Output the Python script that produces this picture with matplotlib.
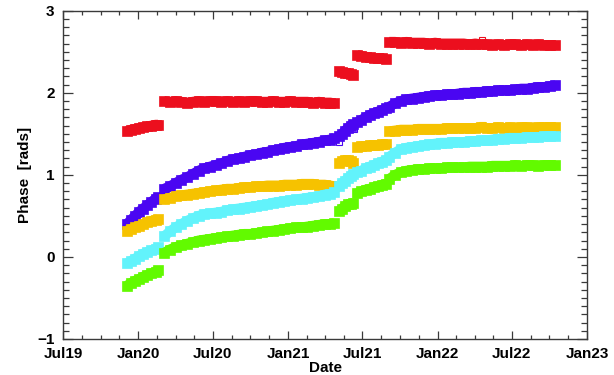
import numpy as np
import pandas as pd
import matplotlib
matplotlib.use("Agg")
import matplotlib.pyplot as plt
import matplotlib.dates as mdates

plt.rcParams['font.family'] = ['Liberation Sans', 'DejaVu Sans']

# ---- observation dates for each campaign segment ----
dates_a = ["2019-12-04", "2019-12-14", "2019-12-24", "2020-01-03", "2020-01-13",
           "2020-01-23", "2020-02-02", "2020-02-12", "2020-02-18"]
dates_b = ["2020-03-04", "2020-03-18", "2020-04-01", "2020-04-15", "2020-04-29",
           "2020-05-13", "2020-05-27", "2020-06-10", "2020-06-24", "2020-07-08",
           "2020-07-22", "2020-08-05", "2020-08-19", "2020-09-02", "2020-09-16",
           "2020-09-30", "2020-10-14", "2020-10-28", "2020-11-11", "2020-11-25",
           "2020-12-09", "2020-12-23", "2021-01-06", "2021-01-20", "2021-02-03",
           "2021-02-17", "2021-03-03", "2021-03-17", "2021-03-31", "2021-04-14",
           "2021-04-24"]
dates_c = ["2021-05-06", "2021-05-13", "2021-05-20", "2021-05-27", "2021-06-03",
           "2021-06-09"]
dates_d = ["2021-06-19", "2021-06-29", "2021-07-09", "2021-07-19", "2021-07-29",
           "2021-08-08", "2021-08-18", "2021-08-27"]
dates_e = ["2021-09-05", "2021-09-19", "2021-10-03", "2021-10-17", "2021-10-31",
           "2021-11-14", "2021-11-28", "2021-12-12", "2021-12-26", "2022-01-09",
           "2022-01-23", "2022-02-06", "2022-02-20", "2022-03-06", "2022-03-20",
           "2022-04-03", "2022-04-17", "2022-05-01", "2022-05-15", "2022-05-29",
           "2022-06-12", "2022-06-26", "2022-07-10", "2022-07-24", "2022-08-07",
           "2022-08-21", "2022-09-04", "2022-09-18", "2022-10-02", "2022-10-16"]

# ---- phase values [rad] per channel, one list per segment ----
red_a = [1.53, 1.55, 1.56, 1.57, 1.58, 1.59, 1.60, 1.61, 1.61]
red_b = [1.90, 1.89, 1.90, 1.89, 1.88, 1.89, 1.90, 1.89, 1.90, 1.90, 1.89, 1.90,
         1.89, 1.90, 1.89, 1.90, 1.90, 1.89, 1.89, 1.90, 1.89, 1.89, 1.90, 1.89,
         1.89, 1.89, 1.88, 1.89, 1.88, 1.88, 1.87]
red_c = [2.26, 2.25, 2.24, 2.24, 2.23, 2.22]
red_d = [2.46, 2.45, 2.44, 2.43, 2.42, 2.42, 2.42, 2.41]
red_e = [2.62, 2.62, 2.61, 2.62, 2.61, 2.61, 2.61, 2.60, 2.61, 2.60, 2.60, 2.60,
         2.60, 2.60, 2.59, 2.60, 2.59, 2.59, 2.58, 2.59, 2.58, 2.59, 2.59, 2.58,
         2.59, 2.58, 2.59, 2.58, 2.58, 2.58]

blue_a = [0.40, 0.45, 0.50, 0.55, 0.59, 0.63, 0.67, 0.71, 0.73]
blue_b = [0.83, 0.86, 0.90, 0.94, 0.97, 1.01, 1.05, 1.08, 1.10, 1.12, 1.14, 1.17,
          1.19, 1.20, 1.22, 1.24, 1.25, 1.27, 1.28, 1.30, 1.31, 1.33, 1.34, 1.35,
          1.37, 1.38, 1.39, 1.40, 1.42, 1.43, 1.45]
blue_c = [1.47, 1.50, 1.54, 1.57, 1.60, 1.62]
blue_d = [1.64, 1.67, 1.70, 1.73, 1.75, 1.77, 1.79, 1.81]
blue_e = [1.83, 1.87, 1.90, 1.92, 1.93, 1.94, 1.95, 1.96, 1.97, 1.97, 1.98, 1.98,
          1.99, 2.00, 2.00, 2.01, 2.01, 2.02, 2.02, 2.03, 2.03, 2.03, 2.04, 2.05,
          2.05, 2.06, 2.07, 2.07, 2.08, 2.09]

orange_a = [0.32, 0.34, 0.36, 0.38, 0.40, 0.42, 0.44, 0.45, 0.46]
orange_b = [0.70, 0.72, 0.74, 0.75, 0.76, 0.77, 0.78, 0.79, 0.80, 0.81, 0.82, 0.83,
            0.83, 0.84, 0.85, 0.85, 0.86, 0.86, 0.87, 0.87, 0.87, 0.88, 0.88, 0.88,
            0.89, 0.89, 0.89, 0.88, 0.88, 0.87, 0.86]
orange_c = [1.14, 1.17, 1.18, 1.18, 1.17, 1.15]
orange_d = [1.34, 1.35, 1.35, 1.36, 1.36, 1.36, 1.37, 1.37]
orange_e = [1.53, 1.54, 1.55, 1.55, 1.55, 1.56, 1.56, 1.56, 1.56, 1.56, 1.57, 1.57,
            1.57, 1.57, 1.57, 1.57, 1.58, 1.57, 1.57, 1.58, 1.57, 1.58, 1.57, 1.58,
            1.58, 1.57, 1.58, 1.58, 1.58, 1.58]

cyan_a = [-0.08, -0.05, -0.02, 0.01, 0.04, 0.06, 0.08, 0.10, 0.12]
cyan_b = [0.25, 0.31, 0.36, 0.40, 0.44, 0.47, 0.50, 0.52, 0.53, 0.54, 0.55, 0.57,
          0.58, 0.59, 0.60, 0.61, 0.62, 0.63, 0.64, 0.66, 0.67, 0.68, 0.69, 0.70,
          0.71, 0.72, 0.73, 0.74, 0.76, 0.77, 0.79]
cyan_c = [0.87, 0.90, 0.93, 0.96, 0.99, 1.01]
cyan_d = [1.03, 1.05, 1.08, 1.10, 1.12, 1.14, 1.16, 1.18]
cyan_e = [1.22, 1.27, 1.31, 1.33, 1.34, 1.35, 1.36, 1.37, 1.38, 1.39, 1.39, 1.40,
          1.40, 1.40, 1.41, 1.41, 1.42, 1.42, 1.43, 1.44, 1.44, 1.45, 1.45, 1.45,
          1.46, 1.46, 1.46, 1.47, 1.47, 1.47]

green_a = [-0.35, -0.32, -0.29, -0.27, -0.24, -0.22, -0.20, -0.18, -0.16]
green_b = [0.05, 0.09, 0.12, 0.14, 0.16, 0.18, 0.20, 0.21, 0.22, 0.23, 0.24, 0.25,
           0.26, 0.27, 0.28, 0.28, 0.29, 0.30, 0.31, 0.32, 0.33, 0.34, 0.35, 0.36,
           0.36, 0.37, 0.38, 0.39, 0.40, 0.40, 0.41]
green_c = [0.56, 0.59, 0.62, 0.64, 0.65, 0.66]
green_d = [0.78, 0.80, 0.82, 0.83, 0.85, 0.86, 0.88, 0.89]
green_e = [0.95, 1.00, 1.03, 1.05, 1.06, 1.07, 1.07, 1.08, 1.08, 1.08, 1.09, 1.09,
           1.09, 1.09, 1.10, 1.10, 1.10, 1.10, 1.11, 1.11, 1.11, 1.11, 1.12, 1.11,
           1.12, 1.12, 1.11, 1.12, 1.12, 1.12]

# a few isolated measurements drawn as open squares
stray_dates = ["2021-05-04", "2021-06-12", "2021-08-29", "2022-04-20", "2022-04-20"]
stray_vals = [1.40, 1.56, 1.80, 2.64, 1.61]
stray_cols = ["#4a06f2", "#4a06f2", "#4a06f2", "#ec0f1e", "#f6c200"]

segment_dates = [dates_a, dates_b, dates_c, dates_d, dates_e]
channels = [
    ("#ec0f1e", [red_a, red_b, red_c, red_d, red_e]),
    ("#4a06f2", [blue_a, blue_b, blue_c, blue_d, blue_e]),
    ("#f6c200", [orange_a, orange_b, orange_c, orange_d, orange_e]),
    ("#62f3fb", [cyan_a, cyan_b, cyan_c, cyan_d, cyan_e]),
    ("#62fa00", [green_a, green_b, green_c, green_d, green_e]),
]

W, H = 614, 375
fig = plt.figure(figsize=(W / 100, H / 100), dpi=100)
ax = fig.add_axes([63 / W, 36 / H, (587 - 63) / W, (339 - 10.7) / H])

for color, segs in channels:
    for d, v in zip(segment_dates, segs):
        t = pd.to_datetime(d)
        # thick band through the samples, with square blocks at every sample
        ax.plot(t, v, color=color, lw=7.2, solid_capstyle="butt",
                solid_joinstyle="round", zorder=2)
        ax.plot(t, v, ls="none", marker="s", ms=6.8, mfc=color, mec=color,
                mew=0.5, zorder=2)

for d, v, c in zip(stray_dates, stray_vals, stray_cols):
    ax.plot(pd.Timestamp(d), v, marker="s", ms=4.5, mfc="none", mec=c,
            mew=0.8, zorder=3)

# axes range and ticks
x0, x1 = pd.Timestamp("2019-07-01"), pd.Timestamp("2023-01-01")
ax.set_xlim(x0, x1)
ax.set_ylim(-1, 3)

major_dates = pd.to_datetime(["2019-07-01", "2020-01-01", "2020-07-01", "2021-01-01",
                              "2021-07-01", "2022-01-01", "2022-07-01", "2023-01-01"])
major_num = mdates.date2num(major_dates)
minor_num = []
for a, b in zip(major_num[:-1], major_num[1:]):
    for k in (1, 2, 3):
        minor_num.append(a + k * (b - a) / 4)
ax.set_xticks(major_num)
ax.set_xticks(minor_num, minor=True)
ax.xaxis.set_major_formatter(mdates.DateFormatter("%b%y"))

ax.set_yticks([-1, 0, 1, 2, 3])
ax.set_yticklabels(["\u22121", "0", "1", "2", "3"])
ax.set_yticks(np.arange(-1, 3.001, 0.1), minor=True)

spine_col = "#3a3a3a"
for s in ax.spines.values():
    s.set_color(spine_col)
    s.set_linewidth(1.0)

ax.tick_params(axis="both", which="both", direction="in", colors=spine_col,
               top=True, right=True, width=0.9)
ax.tick_params(axis="y", which="major", length=7.5)
ax.tick_params(axis="y", which="minor", length=4)
ax.tick_params(axis="x", which="major", length=6)
ax.tick_params(axis="x", which="minor", length=3)
ax.tick_params(axis="both", which="major", labelsize=11, labelcolor="black")
ax.tick_params(axis="x", which="major", pad=6)
ax.tick_params(axis="y", which="major", pad=6)
for lab in ax.get_xticklabels() + ax.get_yticklabels():
    lab.set_fontweight("bold")

ax.set_xlabel("Date", fontsize=11, fontweight="bold", labelpad=0)
ax.set_ylabel("Phase  [rads]", fontsize=11, fontweight="bold", labelpad=4)

fig.savefig("out.png", dpi=100)
